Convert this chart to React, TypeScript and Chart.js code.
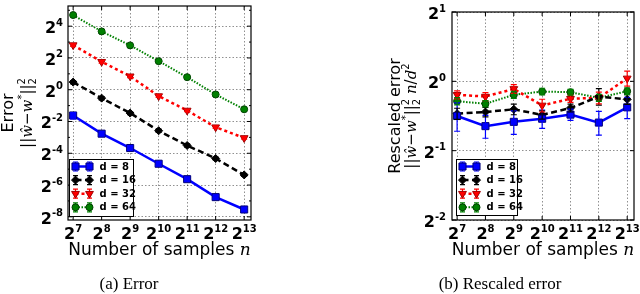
import React, { useEffect, useRef } from 'react';
import { Chart, registerables } from 'chart.js';

Chart.register(...registerables);

// ---------- data ----------
const samples = [128, 256, 512, 1024, 2048, 4096, 8192];
const seriesLabels = ['d = 8', 'd = 16', 'd = 32', 'd = 64'];

// (a) Error
const errorD8 = [0.325, 0.147, 0.0786, 0.0396, 0.0202, 0.00923, 0.00538];
const errorD16 = [1.395, 0.693, 0.361, 0.167, 0.0878, 0.0497, 0.0243];
const errorD32 = [7.01, 3.39, 1.8, 0.758, 0.404, 0.195, 0.122];
const errorD64 = [26.0, 12.73, 6.92, 3.48, 1.73, 0.812, 0.426];
const errorBarD8 = [0.045, 0.012, 0.007, 0.003, 0.0012, 0.0006, 0.0003];
const errorBarD16 = [0.1, 0.05, 0.025, 0.012, 0.006, 0.003, 0.0015];
const errorBarD32 = [0.4, 0.2, 0.1, 0.04, 0.02, 0.01, 0.006];
const errorBarD64 = [1.0, 0.5, 0.25, 0.1, 0.05, 0.03, 0.015];

// (b) Rescaled error
const rescaledD8 = [0.707, 0.639, 0.667, 0.688, 0.717, 0.662, 0.771];
const rescaledD16 = [0.724, 0.736, 0.756, 0.715, 0.766, 0.859, 0.835];
const rescaledD32 = [0.874, 0.859, 0.927, 0.786, 0.84, 0.848, 1.03];
const rescaledD64 = [0.82, 0.799, 0.874, 0.903, 0.897, 0.848, 0.906];
const rescaledBarD8 = [0.1, 0.073, 0.078, 0.063, 0.04, 0.078, 0.082];
const rescaledBarD16 = [0.04, 0.035, 0.04, 0.03, 0.03, 0.07, 0.04];
const rescaledBarD32 = [0.035, 0.035, 0.04, 0.05, 0.03, 0.05, 0.077];
const rescaledBarD64 = [0.03, 0.025, 0.03, 0.03, 0.025, 0.03, 0.03];

// tick labels (powers of two)
const xTickExps = [7, 8, 9, 10, 11, 12, 13];
const errorYTickExps = [-8, -6, -4, -2, 0, 2, 4];
const errorYMinorExps = [-7, -5, -3, -1, 1, 3, 5];
const rescaledYTickExps = [-2, -1, 0, 1];

// ---------- styles ----------
const SANS = '"DejaVu Sans"';
const MATH_IT = 'italic 15px "DejaVu Serif"';
const TICK_BASE = `bold 16px ${SANS}`;
const TICK_SUP = `bold 10px ${SANS}`;

const seriesStyles = [
  { color: '#0000ff', edge: '#00007a', dash: [] as number[], width: 2.5, point: 'rect', radius: 5, rotation: 0 },
  { color: '#000000', edge: '#000000', dash: [6, 3.5], width: 2.5, point: 'rectRot', radius: 4, rotation: 0 },
  { color: '#ff0000', edge: '#a00000', dash: [3, 3], width: 2.5, point: 'triangle', radius: 4.5, rotation: 180 },
  { color: '#008000', edge: '#004000', dash: [1.5, 1.5], width: 2, point: 'circle', radius: 3.5, rotation: 0 },
];

type Run = { t?: string; font: string; dy?: number; stack?: [string, string] };

function drawRuns(ctx: CanvasRenderingContext2D, runs: Run[], x: number, y: number, align: 'center' | 'left') {
  const widths = runs.map((r) => {
    ctx.font = r.font;
    if (r.stack) return Math.max(ctx.measureText(r.stack[0]).width, ctx.measureText(r.stack[1]).width);
    return ctx.measureText(r.t || '').width;
  });
  const total = widths.reduce((a, b) => a + b, 0);
  let cx = align === 'center' ? x - total / 2 : x;
  ctx.textAlign = 'left';
  ctx.textBaseline = 'alphabetic';
  runs.forEach((r, i) => {
    ctx.font = r.font;
    if (r.stack) {
      ctx.fillText(r.stack[0], cx, y - 7);
      ctx.fillText(r.stack[1], cx, y + 4);
    } else {
      ctx.fillText(r.t || '', cx, y + (r.dy || 0));
    }
    cx += widths[i];
  });
}

function drawPow(ctx: CanvasRenderingContext2D, exp: number, x: number, baseline: number, align: 'center' | 'right') {
  const sup = String(exp);
  ctx.font = TICK_BASE;
  const bw = ctx.measureText('2').width;
  ctx.font = TICK_SUP;
  const sw = ctx.measureText(sup).width;
  const total = bw + sw;
  const x0 = align === 'center' ? x - total / 2 : x - total;
  ctx.textAlign = 'left';
  ctx.textBaseline = 'alphabetic';
  ctx.font = TICK_BASE;
  ctx.fillText('2', x0, baseline);
  ctx.font = TICK_SUP;
  ctx.fillText(sup, x0 + bw, baseline - 7.5);
}

function drawMarker(ctx: CanvasRenderingContext2D, style: any, x: number, y: number) {
  ctx.save();
  ctx.fillStyle = style.color;
  ctx.strokeStyle = style.edge;
  ctx.lineWidth = 1;
  ctx.setLineDash([]);
  ctx.beginPath();
  const r = style.radius;
  if (style.point === 'rect') {
    const s = r * Math.SQRT1_2;
    ctx.rect(x - s, y - s, 2 * s, 2 * s);
  } else if (style.point === 'rectRot') {
    ctx.moveTo(x, y - r);
    ctx.lineTo(x + r, y);
    ctx.lineTo(x, y + r);
    ctx.lineTo(x - r, y);
    ctx.closePath();
  } else if (style.point === 'triangle') {
    ctx.moveTo(x - r * 0.866, y - r * 0.5);
    ctx.lineTo(x + r * 0.866, y - r * 0.5);
    ctx.lineTo(x, y + r);
    ctx.closePath();
  } else {
    ctx.arc(x, y, r, 0, Math.PI * 2);
  }
  ctx.fill();
  ctx.stroke();
  ctx.restore();
}

const formulaBase: Run[] = [
  { t: '||', font: `15px ${SANS}` },
  { t: 'ŵ', font: MATH_IT },
  { t: '−', font: `15px ${SANS}` },
  { t: 'w', font: MATH_IT },
  { t: '*', font: `10px ${SANS}`, dy: -7 },
  { t: '||', font: `15px ${SANS}` },
  { stack: ['2', '2'], font: `10px ${SANS}` },
];

type Spec = {
  series: number[][];
  bars: number[][];
  padding: { left: number; right: number; top: number; bottom: number };
  yMinExp: number;
  yMaxExp: number;
  yTicks: number[];
  yMinor: number[];
  yLabelGap: number;
  titleLine1: string;
  titleLine1X: number;
  formula: Run[];
  formulaX: number;
  legendBox: { x: number; y: number; w: number; h: number };
  caption: string;
  captionX: number;
};

function makePlugin(spec: Spec) {
  return {
    id: 'decor',
    afterDatasetsDraw(chart: any) {
      const ctx: CanvasRenderingContext2D = chart.ctx;
      const xs = chart.scales.x;
      const ys = chart.scales.y;
      ctx.save();
      chart.data.datasets.forEach((ds: any) => {
        ctx.strokeStyle = ds.borderColor;
        ctx.lineWidth = 1.2;
        ctx.setLineDash([]);
        ds.data.forEach((p: any, j: number) => {
          const e = ds.errors[j];
          const px = xs.getPixelForValue(p.x);
          const y1 = ys.getPixelForValue(p.y + e);
          const y2 = ys.getPixelForValue(Math.max(p.y - e, 1e-9));
          ctx.beginPath();
          ctx.moveTo(px, y1);
          ctx.lineTo(px, y2);
          ctx.moveTo(px - 3, y1);
          ctx.lineTo(px + 3, y1);
          ctx.moveTo(px - 3, y2);
          ctx.lineTo(px + 3, y2);
          ctx.stroke();
        });
      });
      ctx.restore();
    },
    afterDraw(chart: any) {
      const ctx: CanvasRenderingContext2D = chart.ctx;
      const a = chart.chartArea;
      const xs = chart.scales.x;
      const ys = chart.scales.y;
      ctx.save();
      ctx.setLineDash([]);
      // frame
      ctx.strokeStyle = '#000';
      ctx.lineWidth = 1.2;
      ctx.strokeRect(a.left, a.top, a.right - a.left, a.bottom - a.top);
      // inner ticks
      ctx.lineWidth = 1;
      ctx.beginPath();
      xTickExps.forEach((e) => {
        const px = xs.getPixelForValue(2 ** e);
        ctx.moveTo(px, a.bottom);
        ctx.lineTo(px, a.bottom - 4);
        ctx.moveTo(px, a.top);
        ctx.lineTo(px, a.top + 4);
      });
      spec.yTicks.forEach((e) => {
        const py = ys.getPixelForValue(2 ** e);
        ctx.moveTo(a.left, py);
        ctx.lineTo(a.left + 4, py);
        ctx.moveTo(a.right, py);
        ctx.lineTo(a.right - 4, py);
      });
      spec.yMinor.forEach((e) => {
        const py = ys.getPixelForValue(2 ** e);
        if (py < a.top || py > a.bottom) return;
        ctx.moveTo(a.left, py);
        ctx.lineTo(a.left + 2, py);
        ctx.moveTo(a.right, py);
        ctx.lineTo(a.right - 2, py);
      });
      ctx.stroke();

      // tick labels
      ctx.fillStyle = '#000';
      xTickExps.forEach((e) => {
        drawPow(ctx, e, xs.getPixelForValue(2 ** e), a.bottom + 19, 'center');
      });
      spec.yTicks.forEach((e) => {
        drawPow(ctx, e, a.left - spec.yLabelGap, ys.getPixelForValue(2 ** e) + 7, 'right');
      });

      // x title
      const cxArea = (a.left + a.right) / 2;
      drawRuns(ctx, [
        { t: 'Number of samples ', font: `17px ${SANS}` },
        { t: 'n', font: 'italic 17px "DejaVu Serif"' },
      ], cxArea, 255, 'center');

      // y title (rotated)
      const cyArea = (a.top + a.bottom) / 2;
      ctx.save();
      ctx.translate(spec.titleLine1X, cyArea);
      ctx.rotate(-Math.PI / 2);
      drawRuns(ctx, [{ t: spec.titleLine1, font: `16px ${SANS}` }], 0, 0, 'center');
      ctx.restore();
      ctx.save();
      ctx.translate(spec.formulaX, cyArea);
      ctx.rotate(-Math.PI / 2);
      drawRuns(ctx, spec.formula, 0, 0, 'center');
      ctx.restore();

      // legend
      const b = spec.legendBox;
      ctx.fillStyle = '#fff';
      ctx.fillRect(b.x, b.y, b.w, b.h);
      ctx.strokeStyle = '#000';
      ctx.lineWidth = 1;
      ctx.strokeRect(b.x + 0.5, b.y + 0.5, b.w, b.h);
      seriesLabels.forEach((lab, i) => {
        const st = seriesStyles[i];
        const y = b.y + 7.5 + i * 13.6;
        const x1 = b.x + 6.5;
        const x2 = b.x + 20.5;
        ctx.strokeStyle = st.color;
        ctx.lineWidth = st.width;
        ctx.setLineDash(st.dash);
        ctx.beginPath();
        ctx.moveTo(x1, y);
        ctx.lineTo(x2, y);
        ctx.stroke();
        ctx.setLineDash([]);
        ctx.lineWidth = 1.2;
        ctx.beginPath();
        [x1, x2].forEach((x) => {
          ctx.moveTo(x, y - 4.5);
          ctx.lineTo(x, y + 4.5);
          ctx.moveTo(x - 2.5, y - 4.5);
          ctx.lineTo(x + 2.5, y - 4.5);
          ctx.moveTo(x - 2.5, y + 4.5);
          ctx.lineTo(x + 2.5, y + 4.5);
        });
        ctx.stroke();
        drawMarker(ctx, st, x1, y);
        drawMarker(ctx, st, x2, y);
        ctx.fillStyle = '#000';
        ctx.font = `bold 10px ${SANS}`;
        ctx.textAlign = 'left';
        ctx.textBaseline = 'middle';
        ctx.fillText(lab, b.x + 30.5, y + 0.5);
      });

      // caption
      ctx.fillStyle = '#000';
      ctx.font = '17px "Liberation Serif"';
      ctx.textAlign = 'center';
      ctx.textBaseline = 'alphabetic';
      ctx.fillText(spec.caption, spec.captionX, 289);
      ctx.restore();
    },
  };
}

function makeConfig(spec: Spec): any {
  return {
    type: 'line',
    data: {
      datasets: spec.series.map((vals, i) => {
        const st = seriesStyles[i];
        return {
          label: seriesLabels[i],
          data: samples.map((n, j) => ({ x: n, y: vals[j] })),
          errors: spec.bars[i],
          borderColor: st.color,
          backgroundColor: st.color,
          borderWidth: st.width,
          borderDash: st.dash,
          pointStyle: st.point,
          pointRadius: st.radius,
          pointRotation: st.rotation,
          pointBackgroundColor: st.color,
          pointBorderColor: st.edge,
          pointBorderWidth: 1,
          tension: 0,
          fill: false,
        };
      }),
    },
    options: {
      animation: false,
      responsive: false,
      events: [],
      layout: { padding: spec.padding },
      plugins: { legend: { display: false }, tooltip: { enabled: false } },
      scales: {
        x: {
          type: 'logarithmic',
          min: 2 ** 6.82,
          max: 2 ** 13.24,
          afterBuildTicks: (s: any) => {
            s.ticks = xTickExps.map((e) => ({ value: 2 ** e }));
          },
          ticks: { display: false },
          grid: { color: 'rgba(0,0,0,0.55)', lineWidth: 0.8, drawTicks: false },
          border: { display: false, dash: [1.5, 2] },
        },
        y: {
          type: 'logarithmic',
          min: 2 ** spec.yMinExp,
          max: 2 ** spec.yMaxExp,
          afterBuildTicks: (s: any) => {
            s.ticks = spec.yTicks.map((e) => ({ value: 2 ** e }));
          },
          ticks: { display: false },
          grid: { color: 'rgba(0,0,0,0.55)', lineWidth: 0.8, drawTicks: false },
          border: { display: false, dash: [1.5, 2] },
        },
      },
    },
    plugins: [makePlugin(spec)],
  };
}

const errorSpec: Spec = {
  series: [errorD8, errorD16, errorD32, errorD64],
  bars: [errorBarD8, errorBarD16, errorBarD32, errorBarD64],
  padding: { left: 68, right: 69, top: 2, bottom: 74 },
  yMinExp: -8.2,
  yMaxExp: 5.27,
  yTicks: errorYTickExps,
  yMinor: errorYMinorExps,
  yLabelGap: 5,
  titleLine1: 'Error',
  titleLine1X: 13,
  formula: formulaBase,
  formulaX: 32,
  legendBox: { x: 69, y: 159, w: 64, h: 57 },
  caption: '(a) Error',
  captionX: 129,
};

const rescaledSpec: Spec = {
  series: [rescaledD8, rescaledD16, rescaledD32, rescaledD64],
  bars: [rescaledBarD8, rescaledBarD16, rescaledBarD32, rescaledBarD64],
  padding: { left: 132, right: 3, top: 12, bottom: 74 },
  yMinExp: -2,
  yMaxExp: 1,
  yTicks: rescaledYTickExps,
  yMinor: [],
  yLabelGap: 6,
  titleLine1: 'Rescaled error',
  titleLine1X: 80,
  formula: [
    ...formulaBase,
    { t: ' n', font: MATH_IT },
    { t: '/', font: `15px ${SANS}` },
    { t: 'd', font: MATH_IT },
    { t: '2', font: `10px ${SANS}`, dy: -7 },
  ],
  formulaX: 96,
  legendBox: { x: 136, y: 159, w: 61, h: 56 },
  caption: '(b) Rescaled error',
  captionX: 180,
};

function Panel({ spec, left }: { spec: Spec; left: number }) {
  const ref = useRef<HTMLCanvasElement>(null);
  useEffect(() => {
    if (!ref.current) return;
    const chart = new Chart(ref.current, makeConfig(spec));
    return () => chart.destroy();
  }, [spec]);
  return (
    <canvas
      ref={ref}
      width={320}
      height={294}
      style={{ position: 'absolute', left, top: 0, width: 320, height: 294 }}
    />
  );
}

export default function App() {
  return (
    <div style={{ position: 'absolute', left: 0, top: 0, width: 640, height: 294, background: '#fff' }}>
      <Panel spec={errorSpec} left={0} />
      <Panel spec={rescaledSpec} left={320} />
    </div>
  );
}
